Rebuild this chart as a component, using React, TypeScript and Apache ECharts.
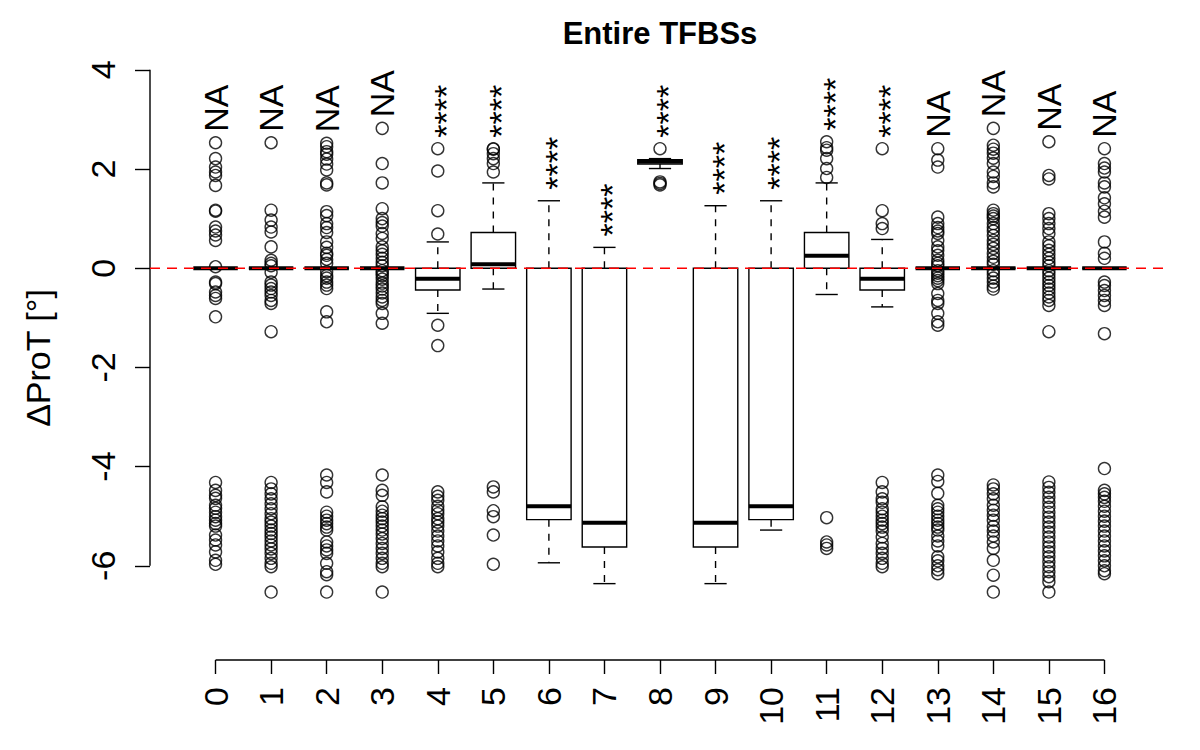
import React, { useEffect, useRef } from "react";
import * as echarts from "echarts";

// ---------- data ----------
const categories = ["0", "1", "2", "3", "4", "5", "6", "7", "8", "9", "10", "11", "12", "13", "14", "15", "16"];
const lowerWhisker = [0, 0, 0, 0, -0.91, -0.42, -5.94, -6.36, 2.01, -6.36, -5.28, -0.53, -0.78, 0, 0, 0, 0];
const lowerQuartile = [0, 0, 0, 0, -0.44, 0, -5.07, -5.62, 2.1, -5.62, -5.07, 0, -0.44, 0, 0, 0, 0];
const medians = [0, 0, 0, 0, -0.21, 0.08, -4.8, -5.13, 2.15, -5.13, -4.8, 0.25, -0.21, 0, 0, 0, 0];
const upperQuartile = [0, 0, 0, 0, 0, 0.72, 0, 0, 2.19, 0, 0, 0.72, 0, 0, 0, 0, 0];
const upperWhisker = [0, 0, 0, 0, 0.53, 1.72, 1.36, 0.42, 2.21, 1.26, 1.36, 1.72, 0.58, 0, 0, 0, 0];
const outliers: number[][] = [
  [2.53, 2.21, 2.04, 1.94, 1.87, 1.67, 1.17, 1.15, 0.83, 0.75, 0.67, 0.56, 0.03, -0.28, -0.31, -0.48, -0.55, -0.61, -0.98,
    -4.32, -4.48, -4.58, -4.64, -4.78, -4.84, -4.92, -5.01, -5.08, -5.15, -5.2, -5.38, -5.48, -5.58, -5.72, -5.89, -5.97],
  [2.53, 1.17, 0.97, 0.83, 0.73, 0.43, 0.16, 0.1, 0.05, -0.08, -0.28, -0.34, -0.41, -0.48, -0.55, -0.65, -0.71, -1.28,
    -4.32, -4.45, -4.55, -4.65, -4.75, -4.85, -4.95, -5.05, -5.12, -5.2, -5.28, -5.35, -5.42, -5.5, -5.58, -5.66, -5.75, -5.85, -5.95, -6.02, -6.53],
  [2.52, 2.45, 2.35, 2.3, 2.2, 2.1, 1.98, 1.72, 1.68, 1.14, 1.06, 0.9, 0.82, 0.72, 0.53, 0.42, 0.3, 0.26, 0.18, 0.1,
    -0.07, -0.15, -0.2, -0.28, -0.34, -0.41, -0.88, -1.08,
    -4.17, -4.32, -4.51, -4.92, -5.0, -5.08, -5.15, -5.22, -5.28, -5.52, -5.6, -5.68, -5.75, -5.95, -6.12, -6.18, -6.53],
  [2.82, 2.11, 1.72, 1.2, 1.0, 0.92, 0.85, 0.7, 0.6, 0.43, 0.35, 0.28, 0.2, 0.12, 0.05, -0.05, -0.1, -0.15, -0.22, -0.3,
    -0.36, -0.42, -0.5, -0.58, -0.65, -0.71, -0.91, -1.11,
    -4.17, -4.48, -4.58, -4.81, -4.9, -4.98, -5.05, -5.12, -5.2, -5.28, -5.36, -5.45, -5.55, -5.65, -5.75, -5.85, -5.95, -6.02, -6.53],
  [2.41, 1.96, 1.16, 0.69, -1.15, -1.56,
    -4.51, -4.6, -4.68, -4.8, -4.88, -4.95, -5.05, -5.12, -5.2, -5.3, -5.4, -5.5, -5.6, -5.72, -5.85, -5.95, -6.02],
  [2.41, 2.4, 2.31, 2.21, 2.11, 1.94, -4.41, -4.51, -4.89, -5.01, -5.38, -5.97],
  [],
  [],
  [2.41, 1.74, 1.71, 1.68],
  [],
  [],
  [2.55, 2.43, 2.38, 2.21, 2.01, 1.83, -5.03, -5.52, -5.58, -5.65],
  [2.41, 1.16, 0.9, 0.8,
    -4.32, -4.51, -4.65, -4.72, -4.85, -4.92, -5.0, -5.08, -5.15, -5.22, -5.3, -5.42, -5.55, -5.65, -5.75, -5.85, -5.95, -6.02],
  [2.41, 2.18, 2.04, 1.03, 0.9, 0.82, 0.75, 0.7, 0.56, 0.43, 0.35, 0.26, 0.16, 0.1, 0.05, -0.05, -0.1, -0.15, -0.2, -0.25,
    -0.31, -0.51, -0.65, -0.71, -0.91, -1.08, -1.15,
    -4.17, -4.3, -4.54, -4.78, -4.85, -4.92, -5.0, -5.08, -5.15, -5.22, -5.28, -5.4, -5.5, -5.6, -5.82, -5.9, -6.0, -6.08, -6.16],
  [2.82, 2.48, 2.4, 2.32, 2.22, 2.11, 1.94, 1.85, 1.72, 1.64, 1.17, 1.1, 1.05, 1.0, 0.9, 0.82, 0.75, 0.66, 0.56, 0.48,
    0.4, 0.3, 0.22, 0.14, 0.08, -0.05, -0.12, -0.2, -0.28, -0.36, -0.42,
    -4.37, -4.45, -4.55, -4.65, -4.78, -4.88, -4.98, -5.08, -5.21, -5.3, -5.4, -5.52, -5.65, -5.89, -6.19, -6.53],
  [2.55, 1.87, 1.8, 1.1, 1.0, 0.9, 0.8, 0.7, 0.53, 0.45, 0.36, 0.28, 0.2, 0.12, 0.05, -0.05, -0.12, -0.2, -0.28, -0.35,
    -0.42, -0.5, -0.58, -0.65, -0.75, -1.28,
    -4.31, -4.42, -4.52, -4.62, -4.72, -4.82, -4.92, -5.02, -5.12, -5.22, -5.32, -5.42, -5.52, -5.62, -5.72, -5.82, -5.92,
    -6.02, -6.12, -6.22, -6.32, -6.53],
  [2.41, 2.11, 2.02, 1.94, 1.72, 1.64, 1.42, 1.3, 1.15, 1.03, 0.53, 0.3, 0.2, -0.28, -0.35, -0.45, -0.55, -0.65, -0.75, -1.32,
    -4.04, -4.48, -4.55, -4.62, -4.7, -4.8, -4.9, -5.0, -5.1, -5.2, -5.3, -5.4, -5.5, -5.6, -5.7, -5.8, -5.9, -6.0, -6.1, -6.16],
];
const significance = ["NA", "NA", "NA", "NA", "****", "****", "****", "****", "****", "****", "****", "****", "****", "NA", "NA", "NA", "NA"];
const yTicks = [-6, -4, -2, 0, 2, 4];
const titleText = "Entire TFBSs";
const yAxisTitle = "ΔProT [°]";

// ---------- layout / style ----------
const X_MIN = -1.18;
const X_MAX = 17.18;
const Y_MIN = -7.9;
const Y_MAX = 4.4;
const BOX_WIDTH = 0.8;
const FONT = '"Liberation Sans", Arial, Helvetica, sans-serif';
const LW = 1.4;

const positions = categories.map((_, i) => i);

function buildOption() {
  const boxData = positions.map((i) => [i, lowerWhisker[i], lowerQuartile[i], medians[i], upperQuartile[i], upperWhisker[i]]);
  const outlierData: number[][] = [];
  positions.forEach((i) => outliers[i].forEach((v) => outlierData.push([i, v])));
  const labelData = positions.map((i) => [i, Math.max(upperWhisker[i], ...outliers[i])]);

  return {
    animation: false,
    backgroundColor: "#ffffff",
    grid: { left: 150, right: 30, top: 50, bottom: 90, containLabel: false },
    graphic: [
      {
        type: "text",
        x: 660,
        y: 33,
        style: { text: titleText, fill: "#000", font: `bold 31px ${FONT}`, align: "center", verticalAlign: "middle" },
      },
      {
        type: "text",
        x: 38,
        y: 358,
        rotation: Math.PI / 2,
        style: { text: yAxisTitle, fill: "#000", font: `34px ${FONT}`, align: "center", verticalAlign: "middle" },
      },
    ],
    xAxis: {
      type: "value",
      min: X_MIN,
      max: X_MAX,
      axisLine: { show: false, onZero: false },
      splitLine: { show: false },
      axisTick: { show: true, length: 14, customValues: positions, lineStyle: { color: "#000", width: LW } },
      axisLabel: {
        customValues: positions,
        formatter: (v: number) => categories[Math.round(v)] ?? "",
        rotate: 90,
        margin: 27,
        fontSize: 34,
        fontFamily: FONT,
        color: "#000",
      },
    },
    yAxis: {
      type: "value",
      min: Y_MIN,
      max: Y_MAX,
      axisLine: { show: false, onZero: false },
      splitLine: { show: false },
      axisTick: { show: true, length: 15, customValues: yTicks, lineStyle: { color: "#000", width: LW } },
      axisLabel: {
        customValues: yTicks,
        formatter: (v: number) => String(v),
        rotate: 90,
        margin: 30,
        fontSize: 34,
        fontFamily: FONT,
        color: "#000",
      },
    },
    series: [
      {
        // axis lines spanning first to last tick (R style)
        type: "custom",
        silent: true,
        z: 1,
        data: [[0]],
        renderItem: (_p: any, api: any) => {
          const a = api.coord([X_MIN, yTicks[0]]);
          const b = api.coord([X_MIN, yTicks[yTicks.length - 1]]);
          const c = api.coord([positions[0], Y_MIN]);
          const d = api.coord([positions[positions.length - 1], Y_MIN]);
          return {
            type: "group",
            children: [
              { type: "line", shape: { x1: a[0], y1: a[1], x2: b[0], y2: b[1] }, style: { stroke: "#000", lineWidth: LW } },
              { type: "line", shape: { x1: c[0], y1: c[1], x2: d[0], y2: d[1] }, style: { stroke: "#000", lineWidth: LW } },
            ],
          };
        },
      },
      {
        // boxes
        type: "custom",
        silent: true,
        z: 2,
        data: boxData,
        renderItem: (_p: any, api: any) => {
          const x = api.value(0);
          const lw = api.value(1), q1 = api.value(2), med = api.value(3), q3 = api.value(4), uw = api.value(5);
          const cx = api.coord([x, 0])[0];
          const y = (v: number) => api.coord([x, v])[1];
          const half = api.size([BOX_WIDTH, 0])[0] / 2;
          const cap = half / 2;
          const solid = { stroke: "#000", lineWidth: LW, fill: "none" };
          const dashed = { stroke: "#000", lineWidth: LW, lineDash: [7, 7] };
          const children: any[] = [
            { type: "line", shape: { x1: cx, y1: y(q3), x2: cx, y2: y(uw) }, style: dashed },
            { type: "line", shape: { x1: cx, y1: y(q1), x2: cx, y2: y(lw) }, style: dashed },
            { type: "line", shape: { x1: cx - cap, y1: y(uw), x2: cx + cap, y2: y(uw) }, style: solid },
            { type: "line", shape: { x1: cx - cap, y1: y(lw), x2: cx + cap, y2: y(lw) }, style: solid },
            { type: "rect", shape: { x: cx - half, y: y(q3), width: 2 * half, height: y(q1) - y(q3) }, style: solid },
            { type: "line", shape: { x1: cx - half, y1: y(med), x2: cx + half, y2: y(med) }, style: { stroke: "#000", lineWidth: 4 } },
          ];
          return { type: "group", children };
        },
      },
      {
        type: "scatter",
        silent: true,
        z: 3,
        symbol: "circle",
        symbolSize: 12,
        itemStyle: { color: "rgba(0,0,0,0)", borderColor: "#000", borderWidth: LW },
        data: outlierData,
      },
      {
        // red dashed zero line
        type: "custom",
        silent: true,
        z: 4,
        data: [[0]],
        renderItem: (_p: any, api: any) => {
          const a = api.coord([X_MIN, 0]);
          const b = api.coord([X_MAX, 0]);
          return {
            type: "line",
            shape: { x1: a[0], y1: a[1], x2: b[0], y2: b[1] },
            style: { stroke: "#ff0000", lineWidth: 1.5, lineDash: [10, 7] },
          };
        },
      },
      {
        // significance labels
        type: "custom",
        silent: true,
        z: 5,
        data: labelData,
        renderItem: (p: any, api: any) => {
          const pt = api.coord([api.value(0), api.value(1)]);
          const txt = significance[p.dataIndex];
          const isStar = txt.indexOf("*") >= 0;
          return {
            type: "text",
            x: pt[0] + (isStar ? 8 : 0),
            y: pt[1] - 11,
            rotation: Math.PI / 2,
            style: { text: txt, fill: "#000", font: `34px ${FONT}`, align: "left", verticalAlign: "middle" },
          };
        },
      },
    ],
  };
}

export default function App() {
  const ref = useRef<HTMLDivElement>(null);
  useEffect(() => {
    document.body.style.margin = "0";
    const chart = echarts.init(ref.current as HTMLDivElement, null, { renderer: "svg" });
    chart.setOption(buildOption() as any);
    return () => chart.dispose();
  }, []);
  return <div ref={ref} style={{ width: 1200, height: 750 }} />;
}
